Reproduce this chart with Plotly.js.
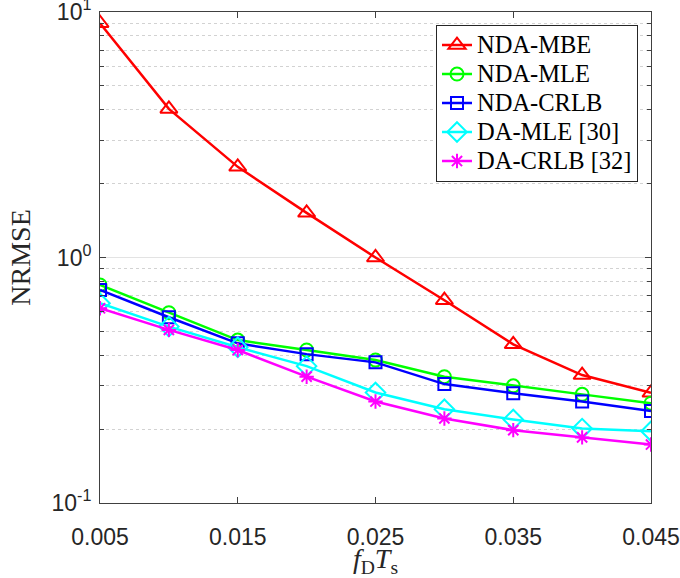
<!DOCTYPE html>
<html>
<head>
<meta charset="utf-8">
<script src="https://cdn.plot.ly/plotly-3.0.1.min.js"></script>
<style>
html,body{margin:0;padding:0;background:#fff;}
#chart{width:680px;height:578px;}
text.legendtext{font-size:24.5px !important;}
</style>
</head>
<body>
<div id="chart"></div>
<script>
const fdTs = [0.005, 0.01, 0.015, 0.02, 0.025, 0.03, 0.035, 0.04, 0.045];
const ndaMbe = [9.0, 4.03, 2.34, 1.52, 1.0, 0.67, 0.443, 0.332, 0.281];
const ndaMle = [0.773, 0.596, 0.461, 0.420, 0.382, 0.327, 0.300, 0.277, 0.255];
const ndaCrlb = [0.738, 0.571, 0.447, 0.404, 0.374, 0.305, 0.280, 0.259, 0.237];
const daMle = [0.651, 0.523, 0.431, 0.361, 0.282, 0.241, 0.219, 0.201, 0.196];
const daCrlb = [0.621, 0.507, 0.420, 0.327, 0.259, 0.221, 0.198, 0.185, 0.173];
const seriesNames = ['NDA-MBE', 'NDA-MLE', 'NDA-CRLB', 'DA-MLE [30]', 'DA-CRLB [32]'];
const xTickVals = [0.005, 0.015, 0.025, 0.035, 0.045];
const xTickText = ['0.005', '0.015', '0.025', '0.035', '0.045'];
const yTickVals = [0.1, 1, 10];
const yTickText = ['10<sup>-1</sup>', '10<sup>0</sup>', '10<sup>1</sup>'];
const yMinorVals = [0.2,0.3,0.4,0.5,0.6,0.7,0.8,0.9,2,3,4,5,6,7,8,9];

const styles = [
  {color:'#ff0000', symbol:'triangle-up-open', size:15},
  {color:'#00ff00', symbol:'circle-open', size:13},
  {color:'#0000ff', symbol:'square-open', size:12},
  {color:'#00ffff', symbol:'diamond-open', size:15},
  {color:'#ff00ff', symbol:'asterisk-open', size:12}
];
const ys = [ndaMbe, ndaMle, ndaCrlb, daMle, daCrlb];
const traces = ys.map((y, i) => ({
  x: fdTs, y: y, name: seriesNames[i], type: 'scatter', mode: 'lines+markers',
  line: {color: styles[i].color, width: 2.5},
  marker: {symbol: styles[i].symbol, size: styles[i].size, color: styles[i].color,
           line: {color: styles[i].color, width: 2}}
}));

const axisCol = '#404040';
const layout = {
  width: 680, height: 578,
  margin: {l: 100, r: 29, t: 12, b: 75},
  paper_bgcolor: '#fff', plot_bgcolor: '#fff',
  showlegend: true,
  legend: {
    x: 0.6098, y: 0.9745, xanchor: 'left', yanchor: 'top',
    bgcolor: '#fff', bordercolor: '#262626', borderwidth: 1,
    font: {family: 'Liberation Serif, serif', size: 20, color: '#000'},
    itemwidth: 30,
    tracegroupgap: 0
  },
  xaxis: {
    range: [0.005, 0.045],
    tickmode: 'array', tickvals: xTickVals, ticktext: xTickText,
    ticks: 'inside', ticklen: 6, tickcolor: axisCol,
    showline: true, linecolor: axisCol, linewidth: 1, mirror: 'ticks',
    showgrid: false, zeroline: false,
    tickfont: {family: 'Liberation Sans, Arial, sans-serif', size: 23, color: '#262626'},
    ticklabelstandoff: 13, ticklabeloverflow: 'allow',
    title: {text: '<i>f</i><sub>D</sub><i>T</i><sub>s</sub>', standoff: 8,
            font: {family: 'Liberation Serif, serif', size: 28, color: '#262626'}}
  },
  yaxis: {
    type: 'log', range: [-1, 1],
    tickmode: 'array', tickvals: yTickVals, ticktext: yTickText,
    ticks: 'inside', ticklen: 6, tickcolor: axisCol,
    showline: true, linecolor: axisCol, linewidth: 1, mirror: 'ticks',
    showgrid: true, gridcolor: '#e3e3e3', gridwidth: 1.5, zeroline: false,
    tickfont: {family: 'Liberation Sans, Arial, sans-serif', size: 23, color: '#262626'},
    ticklabelstandoff: 3, ticklabeloverflow: 'allow',
    minor: {tickmode: 'array', tickvals: yMinorVals, ticks: 'inside', ticklen: 4,
            tickcolor: axisCol, showgrid: true, gridcolor: '#d2d2d2', griddash: 'dot', gridwidth: 1},
    title: {text: 'NRMSE', standoff: 12,
            font: {family: 'Liberation Serif, serif', size: 28, color: '#262626'}}
  }
};
Plotly.newPlot('chart', traces, layout, {staticPlot: true, displayModeBar: false});
</script>
</body>
</html>
